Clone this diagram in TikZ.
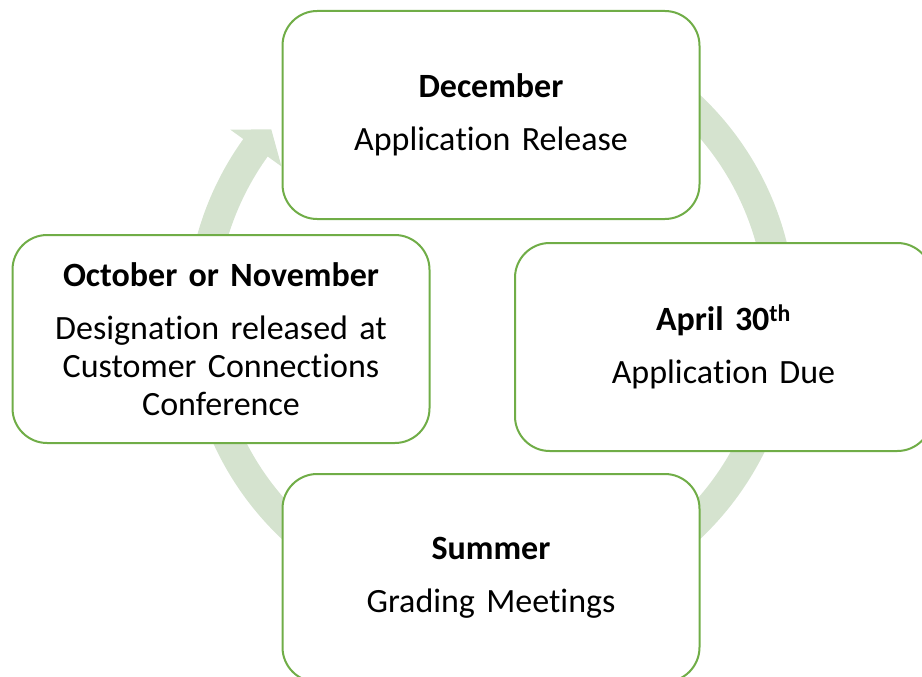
\documentclass[tikz,border=0pt]{standalone}
\usepackage{fontspec}
\setmainfont{Carlito}[Ligatures={NoCommon,NoContextual,NoRequired},Contextuals=NoAlternate]
\definecolor{boxgreen}{HTML}{70AD47}
\definecolor{ringgreen}{HTML}{D5E3CF}
\begin{document}
\begin{tikzpicture}[x=1pt,y=1pt,
  box/.style={draw=boxgreen, line width=2pt, fill=white, rounded corners=34.7pt,
    minimum width=417pt, minimum height=208pt, text width=400pt, align=center,
    font=\fontsize{34}{38}\selectfont, inner sep=0pt},
  ring/.style={ringgreen, line width=30pt}]
\useasboundingbox (0,0) rectangle (922,-677);
\coordinate (c) at (491,-317);
\draw[ring] ([shift={(100:290pt)}]c) arc[start angle=100, end angle=-216, radius=290pt];
\fill[ringgreen] ([shift={(144.3:258pt)}]c) -- ([shift={(144.3:321pt)}]c) -- ([shift={(139.5:289pt)}]c) -- cycle;
\node[box] (dec) at (491,-115) {\textbf{December}\\[15pt]Applica\kern0pt tion Release};
\node[box] (apr) at (723.5,-347) {\textbf{April 30\textsuperscript{th}}\\[15pt]Applica\kern0pt tion Due};
\node[box] (sum) at (491,-578) {\textbf{Summer}\\[15pt]Grading Meetings};
\node[box] (oct) at (221,-339) {\textbf{October or November}\\[15pt]Designa\kern0pt tion released at\\Customer Connec\kern0pt tions\\Conference};
\end{tikzpicture}
\end{document}
